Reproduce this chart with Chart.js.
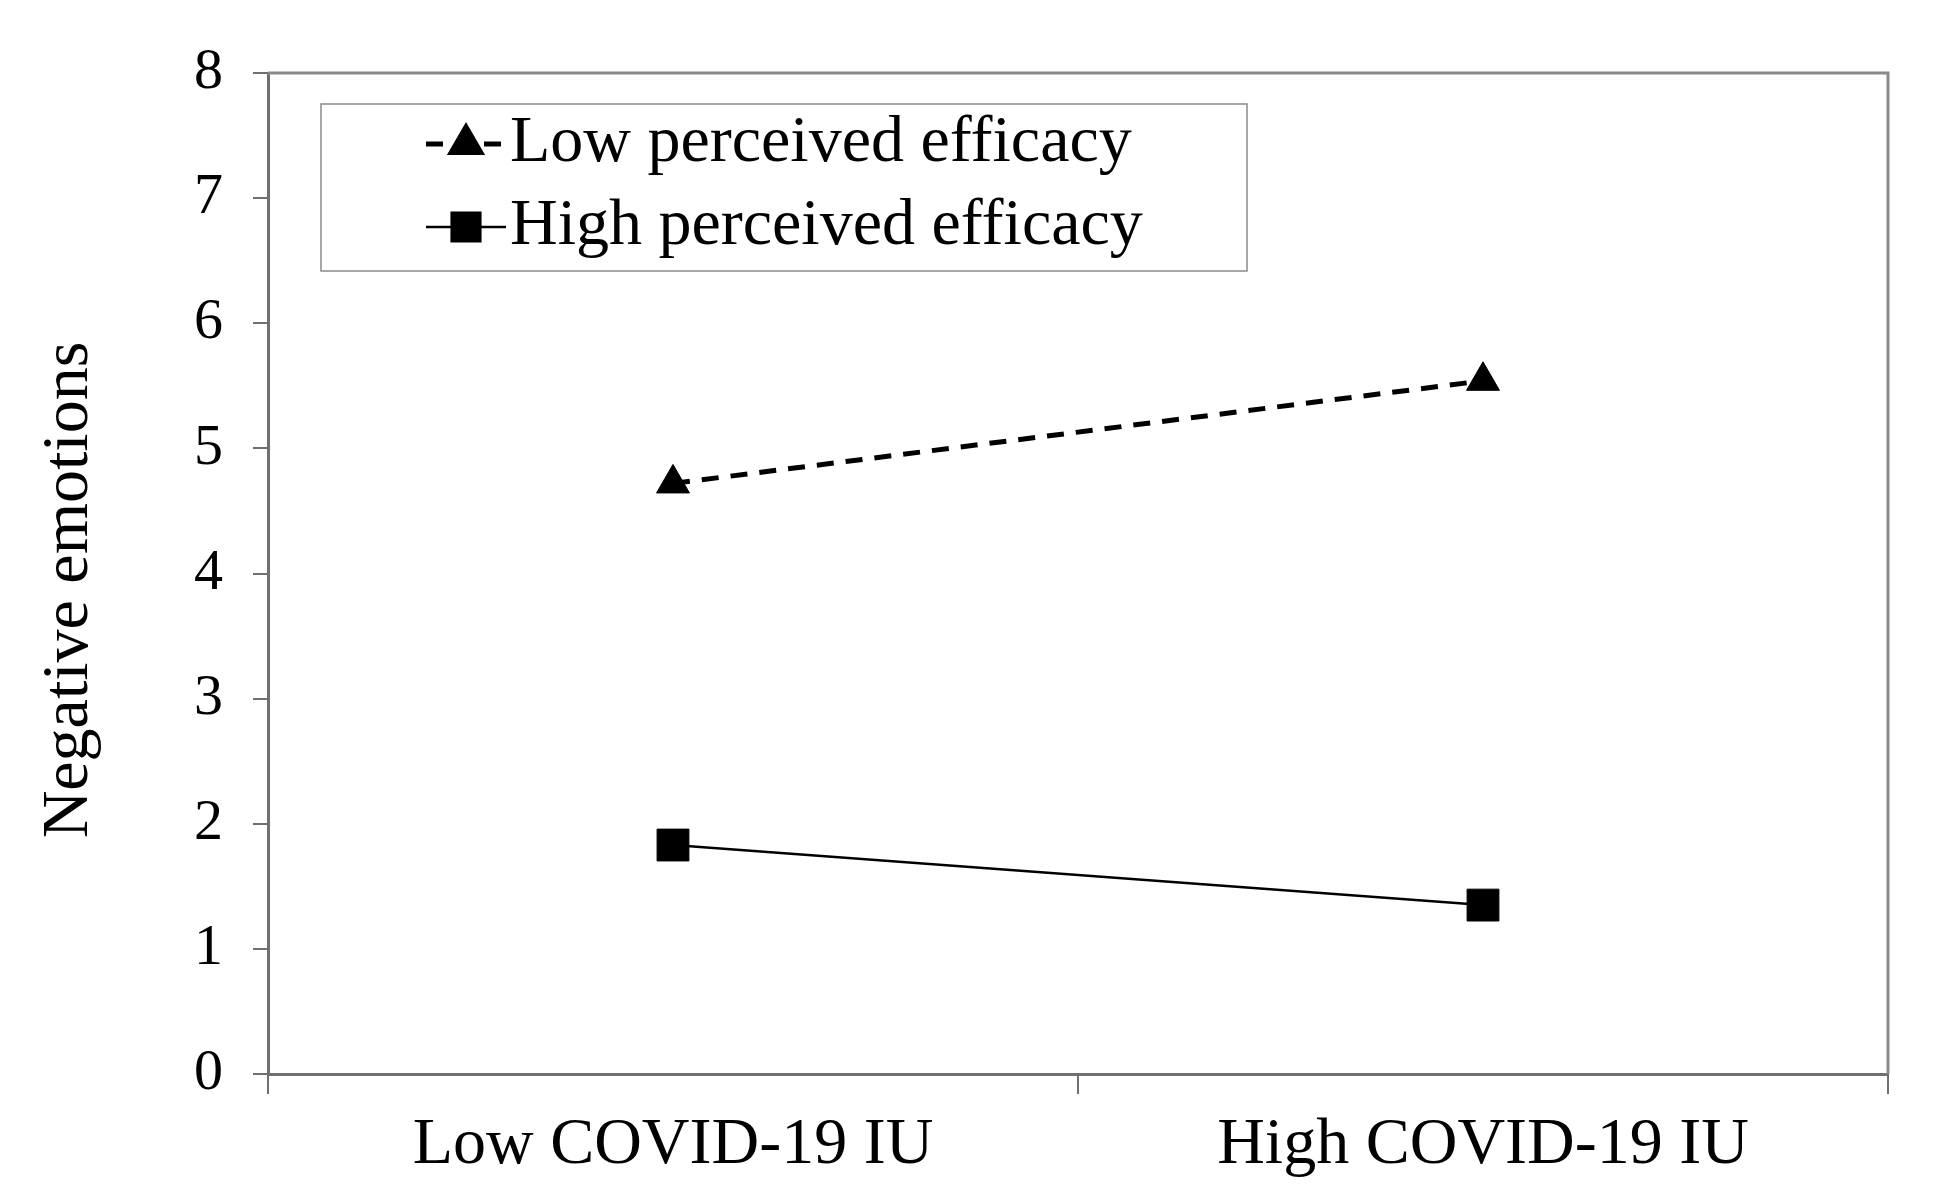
<!DOCTYPE html>
<html>
<head>
<meta charset="utf-8">
<title>Negative emotions</title>
<script src="https://cdn.jsdelivr.net/npm/chart.js@4"></script>
<style>
  body { margin: 0; background: #fff; }
  canvas { display: block; }
</style>
</head>
<body>
<canvas id="emotionChart" width="1945" height="1203"></canvas>
<script>
// Negative emotions by COVID-19 IU and perceived efficacy

const categories = ['Low COVID-19 IU', 'High COVID-19 IU'];
const lowEfficacy = [4.72, 5.54];   // dashed line, triangles
const highEfficacy = [1.83, 1.35];  // solid line, squares
const seriesNames = ['Low perceived efficacy', 'High perceived efficacy'];
const yMin = 0, yMax = 8, yStep = 1;

const serif = "'Liberation Serif', 'Times New Roman', serif";
const axisGrey = '#707070';

// frame on top and right of plot + legend box inside the plot
const framePlugin = {
    id: 'frame',
    beforeDatasetsDraw(chart) {
        const { ctx, chartArea: a } = chart;
        ctx.save();
        ctx.strokeStyle = '#8a8a8a';
        ctx.lineWidth = 3;
        ctx.beginPath();
        ctx.moveTo(a.left, a.top);
        ctx.lineTo(a.right, a.top);
        ctx.lineTo(a.right, a.bottom);
        ctx.stroke();
        ctx.restore();
    },
    afterDraw(chart) {
        const ctx = chart.ctx;
        const box = { x: 321, y: 104, w: 926, h: 167 };
        ctx.save();
        ctx.fillStyle = '#fff';
        ctx.fillRect(box.x, box.y, box.w, box.h);
        ctx.strokeStyle = '#8a8a8a';
        ctx.lineWidth = 1.5;
        ctx.strokeRect(box.x, box.y, box.w, box.h);

        const rows = [144, 227];
        chart.data.datasets.forEach((ds, i) => {
            const y = rows[i];
            ctx.strokeStyle = '#000';
            ctx.lineWidth = ds.borderWidth;
            ctx.setLineDash(ds.borderDash || []);
            ctx.beginPath();
            ctx.moveTo(426, y);
            ctx.lineTo(506, y);
            ctx.stroke();
            ctx.setLineDash([]);
            ctx.fillStyle = '#000';
            Chart.helpers.drawPoint(ctx, {
                pointStyle: ds.pointStyle,
                radius: ds.pointRadius * 0.9,
                rotation: 0,
                borderWidth: 1
            }, 466, y);
            ctx.fillStyle = '#000';
            ctx.font = '66px ' + serif;
            ctx.textBaseline = 'middle';
            ctx.textAlign = 'left';
            ctx.fillText(ds.label, 510, y);
        });
        ctx.restore();
    }
};

const ctx = document.getElementById('emotionChart').getContext('2d');

const emotionChart = new Chart(ctx, {
    type: 'line',
    data: {
        labels: categories,
        datasets: [{
            label: seriesNames[0],
            data: lowEfficacy,
            borderColor: '#000',
            borderWidth: 5,
            borderDash: [17, 12],
            pointStyle: 'triangle',
            pointRadius: 19,
            pointBackgroundColor: '#000',
            pointBorderColor: '#000',
            pointBorderWidth: 1,
            tension: 0
        }, {
            label: seriesNames[1],
            data: highEfficacy,
            borderColor: '#000',
            borderWidth: 2.5,
            pointStyle: 'rect',
            pointRadius: 22.5,
            pointBackgroundColor: '#000',
            pointBorderColor: '#000',
            pointBorderWidth: 1,
            tension: 0
        }]
    },
    options: {
        responsive: false,
        animation: false,
        devicePixelRatio: 1,
        layout: {
            padding: { left: 10, top: 73, right: 57, bottom: 0 }
        },
        plugins: {
            legend: { display: false },
            tooltip: { enabled: false }
        },
        scales: {
            x: {
                offset: true,
                grid: {
                    offset: true,
                    drawOnChartArea: false,
                    tickLength: 20,
                    color: axisGrey,
                    lineWidth: 2
                },
                border: { display: true, color: axisGrey, width: 3 },
                ticks: {
                    color: '#000',
                    font: { family: serif, size: 66 },
                    padding: 12,
                    maxRotation: 0
                },
                afterFit(scale) { scale.height = 129; }
            },
            y: {
                min: yMin,
                max: yMax,
                grid: {
                    drawOnChartArea: false,
                    tickLength: 15,
                    color: axisGrey,
                    lineWidth: 2
                },
                border: { display: true, color: axisGrey, width: 3 },
                ticks: {
                    stepSize: yStep,
                    color: '#000',
                    font: { family: serif, size: 58 },
                    padding: 30
                },
                title: {
                    display: true,
                    text: 'Negative emotions  ',
                    color: '#000',
                    font: { family: serif, size: 66 },
                    padding: { top: 20, bottom: 0 }
                },
                afterFit(scale) { scale.width = 258; }
            }
        }
    },
    plugins: [framePlugin]
});
</script>
</body>
</html>
